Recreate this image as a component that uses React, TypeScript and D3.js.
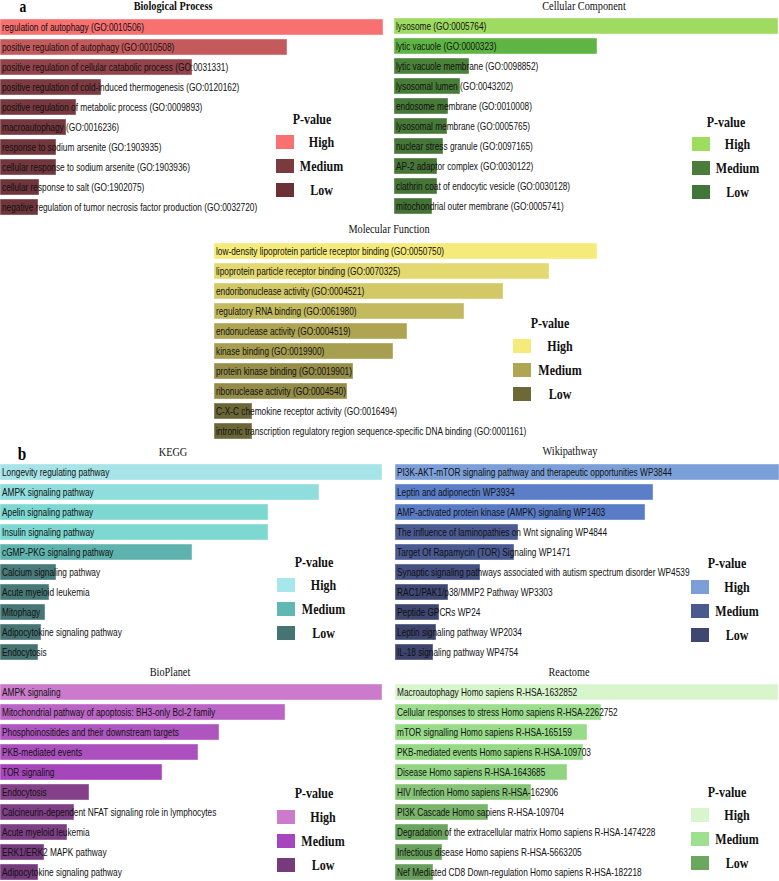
import React from "react";
import * as d3 from "d3";

// ---------- DATA ----------
const bpTerms = [
  "regulation of autophagy (GO:0010506)",
  "positive regulation of autophagy (GO:0010508)",
  "positive regulation of cellular catabolic process (GO:0031331)",
  "positive regulation of cold-induced thermogenesis (GO:0120162)",
  "positive regulation of metabolic process (GO:0009893)",
  "macroautophagy (GO:0016236)",
  "response to sodium arsenite (GO:1903935)",
  "cellular response to sodium arsenite (GO:1903936)",
  "cellular response to salt (GO:1902075)",
  "negative regulation of tumor necrosis factor production (GO:0032720)",
];
const bpScores = [38.3, 28.7, 19.2, 10.1, 7.6, 6.6, 5.6, 5.6, 3.9, 3.8];

const ccTerms = [
  "lysosome (GO:0005764)",
  "lytic vacuole (GO:0000323)",
  "lytic vacuole membrane (GO:0098852)",
  "lysosomal lumen (GO:0043202)",
  "endosome membrane (GO:0010008)",
  "lysosomal membrane (GO:0005765)",
  "nuclear stress granule (GO:0097165)",
  "AP-2 adaptor complex (GO:0030122)",
  "clathrin coat of endocytic vesicle (GO:0030128)",
  "mitochondrial outer membrane (GO:0005741)",
];
const ccScores = [38.4, 20.3, 7.5, 6.6, 5.4, 5.3, 4.9, 4.3, 4.3, 3.8];

const mfTerms = [
  "low-density lipoprotein particle receptor binding (GO:0050750)",
  "lipoprotein particle receptor binding (GO:0070325)",
  "endoribonuclease activity (GO:0004521)",
  "regulatory RNA binding (GO:0061980)",
  "endonuclease activity (GO:0004519)",
  "kinase binding (GO:0019900)",
  "protein kinase binding (GO:0019901)",
  "ribonuclease activity (GO:0004540)",
  "C-X-C chemokine receptor activity (GO:0016494)",
  "intronic transcription regulatory region sequence-specific DNA binding (GO:0001161)",
];
const mfScores = [38.3, 33.5, 28.9, 25.0, 19.3, 17.9, 13.9, 13.3, 3.8, 3.8];

const keggTerms = [
  "Longevity regulating pathway",
  "AMPK signaling pathway",
  "Apelin signaling pathway",
  "Insulin signaling pathway",
  "cGMP-PKG signaling pathway",
  "Calcium signaling pathway",
  "Acute myeloid leukemia",
  "Mitophagy",
  "Adipocytokine signaling pathway",
  "Endocytosis",
];
const keggScores = [38.2, 31.9, 26.8, 26.8, 19.2, 5.6, 4.9, 4.5, 4.1, 3.8];

const wikiTerms = [
  "PI3K-AKT-mTOR signaling pathway and therapeutic opportunities WP3844",
  "Leptin and adiponectin WP3934",
  "AMP-activated protein kinase (AMPK) signaling WP1403",
  "The influence of laminopathies on Wnt signaling WP4844",
  "Target Of Rapamycin (TOR) Signaling WP1471",
  "Synaptic signaling pathways associated with autism spectrum disorder WP4539",
  "RAC1/PAK1/p38/MMP2 Pathway WP3303",
  "Peptide GPCRs WP24",
  "Leptin signaling pathway WP2034",
  "IL-18 signaling pathway WP4754",
];
const wikiScores = [38.4, 25.8, 25.0, 12.3, 11.9, 8.5, 5.3, 4.4, 4.1, 3.8];

const bioTerms = [
  "AMPK signaling",
  "Mitochondrial pathway of apoptosis: BH3-only Bcl-2 family",
  "Phosphoinositides and their downstream targets",
  "PKB-mediated events",
  "TOR signaling",
  "Endocytosis",
  "Calcineurin-dependent NFAT signaling role in lymphocytes",
  "Acute myeloid leukemia",
  "ERK1/ERK2 MAPK pathway",
  "Adipocytokine signaling pathway",
];
const bioScores = [38.2, 28.5, 21.9, 19.8, 16.2, 8.9, 7.4, 6.7, 4.4, 3.8];

const reactTerms = [
  "Macroautophagy Homo sapiens R-HSA-1632852",
  "Cellular responses to stress Homo sapiens R-HSA-2262752",
  "mTOR signalling Homo sapiens R-HSA-165159",
  "PKB-mediated events Homo sapiens R-HSA-109703",
  "Disease Homo sapiens R-HSA-1643685",
  "HIV Infection Homo sapiens R-HSA-162906",
  "PI3K Cascade Homo sapiens R-HSA-109704",
  "Degradation of the extracellular matrix Homo sapiens R-HSA-1474228",
  "Infectious disease Homo sapiens R-HSA-5663205",
  "Nef Mediated CD8 Down-regulation Homo sapiens R-HSA-182218",
];
const reactScores = [38.3, 20.6, 19.2, 18.8, 17.2, 13.6, 9.3, 5.3, 4.7, 3.8];

const legendLabels = ["High", "Medium", "Low"];

// ---------- STYLE / LAYOUT ----------
type Panel = {
  title: string;
  bold?: boolean;
  terms: string[];
  scores: number[];
  x0: number;
  width: number;
  titleX: number;
  titleY: number;
  barTop: number;
  legendX: number;
  pvalX: number;
  pvalY: number;
  swatchTop: number;
  labelX: number;
  stops: [number, string][];
  legend: string[];
};

const panels: Panel[] = [
  {
    title: "Biological Process", bold: true, terms: bpTerms, scores: bpScores,
    x0: 0, width: 383, titleX: 173, titleY: 10, barTop: 19,
    legendX: 276, pvalX: 312, pvalY: 124, swatchTop: 135, labelX: 321.5,
    stops: [[0, "#6e353b"], [0.45, "#93444a"], [1, "#f87070"]],
    legend: ["#f87070", "#7a3b3f", "#6c3135"],
  },
  {
    title: "Cellular Component", terms: ccTerms, scores: ccScores,
    x0: 394, width: 384, titleX: 584, titleY: 10, barTop: 18,
    legendX: 692, pvalX: 726, pvalY: 127, swatchTop: 137, labelX: 737.5,
    stops: [[0, "#457337"], [0.48, "#5fb543"], [1, "#9edb60"]],
    legend: ["#9ddc5e", "#4a7c3a", "#40763a"],
  },
  {
    title: "Molecular Function", terms: mfTerms, scores: mfScores,
    x0: 214, width: 383, titleX: 389, titleY: 233, barTop: 243,
    legendX: 513, pvalX: 550, pvalY: 328, swatchTop: 339, labelX: 560,
    stops: [[0, "#6b6637"], [0.45, "#aea452"], [1, "#f5eb7a"]],
    legend: ["#f5eb7a", "#b0a552", "#6d6838"],
  },
  {
    title: "KEGG", terms: keggTerms, scores: keggScores,
    x0: 0, width: 382, titleX: 173, titleY: 456, barTop: 464,
    legendX: 277, pvalX: 314, pvalY: 567, swatchTop: 578, labelX: 323.5,
    stops: [[0, "#457372"], [0.45, "#5fb3ae"], [0.67, "#7dd8d2"], [1, "#a6e4e8"]],
    legend: ["#a7e6ea", "#5fb8b3", "#467472"],
  },
  {
    title: "Wikipathway", terms: wikiTerms, scores: wikiScores,
    x0: 395, width: 384, titleX: 570, titleY: 455, barTop: 464,
    legendX: 691, pvalX: 727, pvalY: 568, swatchTop: 580, labelX: 737,
    stops: [[0, "#3d436c"], [0.25, "#4a5a94"], [0.62, "#5a7dc8"], [1, "#7b9fd8"]],
    legend: ["#7b9fd6", "#4a5a8e", "#3f4670"],
  },
  {
    title: "BioPlanet", terms: bioTerms, scores: bioScores,
    x0: 0, width: 382, titleX: 170, titleY: 676, barTop: 684,
    legendX: 277, pvalX: 314, pvalY: 798, swatchTop: 810, labelX: 323,
    stops: [[0, "#743a7c"], [0.15, "#84418a"], [0.36, "#a547bb"], [1, "#cc7bcc"]],
    legend: ["#cc7acc", "#a645bd", "#773b7d"],
  },
  {
    title: "Reactome", terms: reactTerms, scores: reactScores,
    x0: 395, width: 383, titleX: 569, titleY: 676, barTop: 684,
    legendX: 691, pvalX: 727, pvalY: 797, swatchTop: 808, labelX: 737,
    stops: [[0, "#669e5a"], [0.45, "#98dc88"], [1, "#d8f5cc"]],
    legend: ["#d9f5cd", "#9ee08f", "#6aa860"],
  },
];

const SX = 0.79; // horizontal compression of the original figure
const SANS = "'Liberation Sans', Arial, sans-serif";
const SERIF = "'Liberation Serif', 'Times New Roman', serif";

function PanelView({ p }: { p: Panel }) {
  const maxV = d3.max(p.scores) as number;
  const minV = d3.min(p.scores) as number;
  const x = d3.scaleLinear().domain([0, maxV]).range([0, p.width]);
  const y = d3
    .scaleBand<string>()
    .domain(p.terms)
    .range([p.barTop - 2, p.barTop - 2 + 200])
    .paddingInner(0.2)
    .paddingOuter(0.1);
  const t = d3.scaleLinear().domain([minV, maxV]).range([0, 1]);
  const color = d3
    .scaleLinear<string>()
    .domain(p.stops.map((s) => s[0]))
    .range(p.stops.map((s) => s[1]))
    .interpolate(d3.interpolateRgb);
  return (
    <g>
      <text
        transform={`translate(${p.titleX},${p.titleY}) scale(${SX},1)`}
        textAnchor="middle"
        fontFamily={SERIF}
        fontWeight={p.bold ? "bold" : "normal"}
        fontSize={13}
        fill="#111"
      >
        {p.title}
      </text>
      {p.terms.map((term, i) => (
        <g key={term}>
          <rect
            x={p.x0}
            y={y(term)}
            width={x(p.scores[i])}
            height={y.bandwidth()}
            fill={color(t(p.scores[i]))}
            stroke="rgba(255,255,255,0.5)"
            strokeWidth={0.8}
          />
          <text
            transform={`translate(${p.x0 + 2},${(y(term) as number) + y.bandwidth() / 2}) scale(${SX},1)`}
            dy="0.36em"
            fontFamily={SANS}
            fontSize={10.5}
            fill="#111"
          >
            {term}
          </text>
        </g>
      ))}
      <text
        transform={`translate(${p.pvalX},${p.pvalY}) scale(0.8,1)`}
        textAnchor="middle"
        fontFamily={SERIF}
        fontWeight="bold"
        fontSize={15}
        fill="#111"
      >
        P-value
      </text>
      {legendLabels.map((lab, i) => (
        <g key={lab}>
          <rect
            x={p.legendX}
            y={p.swatchTop + i * 24}
            width={18}
            height={14}
            fill={p.legend[i]}
          />
          <text
            transform={`translate(${p.labelX},${p.swatchTop + i * 24 + 12}) scale(0.8,1)`}
            textAnchor="middle"
            fontFamily={SERIF}
            fontWeight="bold"
            fontSize={15}
            fill="#111"
          >
            {lab}
          </text>
        </g>
      ))}
    </g>
  );
}

export default function App() {
  return (
    <svg
      width={779}
      height={881}
      style={{ position: "absolute", left: 0, top: 0, background: "#fff" }}
    >
      <rect width={779} height={881} fill="#fff" />
      {panels.map((p) => (
        <PanelView key={p.title} p={p} />
      ))}
      <text
        transform={`translate(23,12) scale(0.85,1)`}
        textAnchor="middle"
        fontFamily={SERIF}
        fontWeight="bold"
        fontSize={16}
      >
        a
      </text>
      <text
        transform={`translate(22,460) scale(0.85,1)`}
        textAnchor="middle"
        fontFamily={SERIF}
        fontWeight="bold"
        fontSize={18}
      >
        b
      </text>
    </svg>
  );
}
